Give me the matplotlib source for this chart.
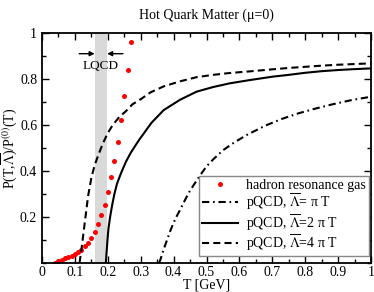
import matplotlib
matplotlib.use('Agg')
import matplotlib.pyplot as plt
from matplotlib.ticker import MultipleLocator, FormatStrFormatter, FixedLocator

plt.rcParams['font.family'] = 'Liberation Serif'
plt.rcParams['mathtext.fontset'] = 'stix'
plt.rcParams['xtick.direction'] = 'in'
plt.rcParams['ytick.direction'] = 'in'

# hadron resonance gas
hrg_t = [0.04, 0.05, 0.06, 0.07, 0.08, 0.09, 0.10, 0.11, 0.12, 0.13, 0.14, 0.15,
         0.16, 0.17, 0.18, 0.19, 0.20, 0.21, 0.22, 0.23, 0.24, 0.25, 0.26, 0.27]
hrg_p = [0.002, 0.009, 0.015, 0.020, 0.026, 0.032, 0.040, 0.048, 0.058, 0.072, 0.088, 0.108,
         0.135, 0.168, 0.207, 0.254, 0.308, 0.373, 0.445, 0.528, 0.622, 0.725, 0.837, 0.960]

# pQCD, Lambda = pi T
pi_t = [0.356, 0.360, 0.370, 0.380, 0.390, 0.400, 0.410, 0.420, 0.435, 0.450, 0.480, 0.500,
        0.520, 0.550, 0.580, 0.620, 0.680, 0.730, 0.780, 0.830, 0.880, 0.940, 1.000]
pi_p = [0.0, 0.015, 0.060, 0.100, 0.140, 0.175, 0.205, 0.232, 0.275, 0.315, 0.380, 0.420,
        0.450, 0.490, 0.520, 0.555, 0.598, 0.627, 0.651, 0.671, 0.689, 0.708, 0.723]

# pQCD, Lambda = 2 pi T
two_pi_t = [0.194, 0.196, 0.199, 0.202, 0.207, 0.213, 0.220, 0.228, 0.240, 0.255, 0.270, 0.295,
            0.333, 0.370, 0.420, 0.470, 0.520, 0.570, 0.630, 0.700, 0.750, 0.800, 0.850, 0.900,
            0.950, 1.000]
two_pi_p = [0.0, 0.04, 0.10, 0.15, 0.20, 0.25, 0.30, 0.345, 0.39, 0.44, 0.48, 0.535,
            0.61, 0.665, 0.71, 0.745, 0.765, 0.781, 0.795, 0.810, 0.818, 0.827, 0.834, 0.839,
            0.843, 0.846]

# pQCD, Lambda = 4 pi T
four_pi_t = [0.114, 0.120, 0.126, 0.133, 0.140, 0.150, 0.160, 0.170, 0.185, 0.200, 0.215, 0.235,
             0.255, 0.275, 0.300, 0.330, 0.370, 0.420, 0.470, 0.520, 0.570, 0.630, 0.700, 0.750,
             0.800, 0.850, 0.900, 0.950, 1.000]
four_pi_p = [0.0, 0.06, 0.13, 0.21, 0.29, 0.37, 0.425, 0.465, 0.52, 0.565, 0.60, 0.635,
             0.66, 0.69, 0.712, 0.742, 0.768, 0.79, 0.808, 0.818, 0.826, 0.833, 0.842, 0.848,
             0.853, 0.858, 0.862, 0.865, 0.868]

lqcd_band = (0.16, 0.198)

fig = plt.figure(figsize=(3.74, 2.92), dpi=100)
ax = fig.add_axes([0.1123, 0.0993, 0.8797, 0.7877])

ax.axvspan(lqcd_band[0], lqcd_band[1], color='#d9d9d9', lw=0, zorder=0)

ax.plot(hrg_t, hrg_p, 'o', color='red', ms=3.6, mec='none', label='hadron resonance gas')
ax.plot(pi_t, pi_p, color='black', lw=1.5, ls=(0, (3.5, 1.8, 0.8, 1.8)),
        label=r'pQCD, $\overline{\Lambda}$= π T')
ax.plot(two_pi_t, two_pi_p, color='black', lw=1.5, label=r'pQCD, $\overline{\Lambda}$=2 π T')
ax.plot(four_pi_t, four_pi_p, color='black', lw=1.5, ls=(0, (3.4, 2.0)),
        label=r'pQCD, $\overline{\Lambda}$=4 π T')

# LQCD arrows
arrow = dict(arrowstyle='-|>', color='black', lw=1.0, mutation_scale=7, shrinkA=0, shrinkB=0)
ax.annotate('', xy=(lqcd_band[0], 0.91), xytext=(0.113, 0.91), arrowprops=arrow)
ax.annotate('', xy=(lqcd_band[1], 0.91), xytext=(0.246, 0.91), arrowprops=arrow)
ax.text(0.179, 0.855, 'LQCD', ha='center', va='center', fontsize=9.5)

ax.set_xlim(0, 1)
ax.set_ylim(0, 1)
ax.xaxis.set_major_locator(MultipleLocator(0.1))
ax.xaxis.set_minor_locator(MultipleLocator(0.05))
ax.yaxis.set_major_locator(FixedLocator([0.2, 0.4, 0.6, 0.8, 1.0]))
ax.yaxis.set_minor_locator(MultipleLocator(0.1))
ax.xaxis.set_major_formatter(FormatStrFormatter('%g'))
ax.yaxis.set_major_formatter(FormatStrFormatter('%g'))
ax.tick_params(which='both', top=True, right=True, labelsize=10, width=1.0)
ax.tick_params(which='major', length=5)
ax.tick_params(which='minor', length=3)
ax.tick_params(axis='x', pad=2)
for s in ax.spines.values():
    s.set_linewidth(1.3)

ax.set_xlabel('T [GeV]', fontsize=10, labelpad=0)
ax.set_ylabel(r'P(T,$\overline{\Lambda}$)/P$^{(0)}$(T)', fontsize=10, labelpad=1)
ax.set_title('Hot Quark Matter (μ=0)', fontsize=10, pad=10)

leg = ax.legend(loc='lower right', bbox_to_anchor=(0.994, 0.03), borderaxespad=0,
                fontsize=10, fancybox=False, framealpha=1, edgecolor='#888888',
                handlelength=2.6, labelspacing=0.0, borderpad=0.22, handletextpad=0.6)
leg.get_frame().set_linewidth(1.0)

fig.savefig('out.png', dpi=100)
